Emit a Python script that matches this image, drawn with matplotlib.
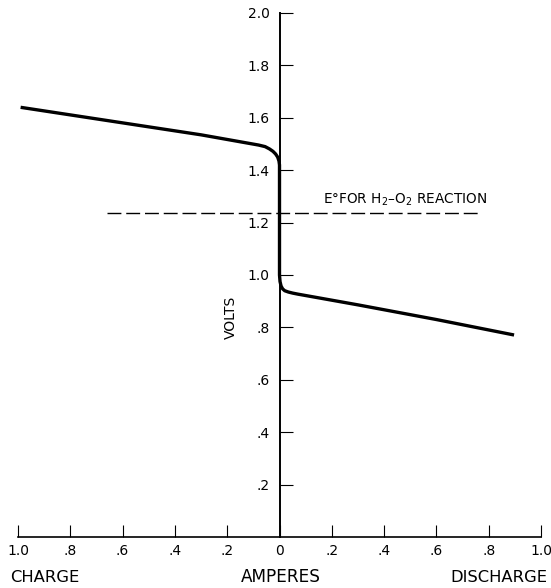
import matplotlib
matplotlib.use("Agg")
import matplotlib.pyplot as plt
import numpy as np

# Data (amperes; negative = charge side, volts)
curve_x = [-0.99, -0.30, -0.08, -0.055, -0.038, -0.025, -0.015, -0.007, -0.002, 0.0, 0.0,
           0.0, 0.002, 0.006, 0.012, 0.02, 0.034, 0.05, 0.07, 0.30, 0.60, 0.897]
curve_y = [1.64, 1.535, 1.496, 1.490, 1.481, 1.472, 1.462, 1.450, 1.435, 1.42, 1.05,
           1.00, 0.975, 0.958, 0.947, 0.940, 0.935, 0.931, 0.927, 0.886, 0.830, 0.771]
ref_x = [-0.66, 0.77]
ref_y = 1.235
x_ticks = [-1.0, -0.8, -0.6, -0.4, -0.2, 0.0, 0.2, 0.4, 0.6, 0.8, 1.0]
x_ticklabels = ["1.0", ".8", ".6", ".4", ".2", "0", ".2", ".4", ".6", ".8", "1.0"]
y_ticks = [0.2, 0.4, 0.6, 0.8, 1.0, 1.2, 1.4, 1.6, 1.8, 2.0]
y_ticklabels = [".2", ".4", ".6", ".8", "1.0", "1.2", "1.4", "1.6", "1.8", "2.0"]

plt.rcParams['font.family'] = ['DejaVu Sans']
fig = plt.figure(figsize=(5.51, 5.88), dpi=100)
ax = fig.add_axes([18/551, 1-537/588, 523/551, 524/588])
ax.set_xlim(-1, 1)
ax.set_ylim(0, 2)

ax.plot(curve_x, curve_y, color='black', lw=2.4, solid_joinstyle='round', solid_capstyle='butt')
ax.plot(ref_x, [ref_y, ref_y], color='black', lw=1.0, dashes=(10, 3.5))
ax.text(0.165, 1.257, "E°FOR H$_2$–O$_2$ REACTION", fontsize=9.8, ha='left', va='bottom')

for s in ['top', 'right']:
    ax.spines[s].set_visible(False)
ax.spines['left'].set_position(('data', 0))
ax.spines['bottom'].set_position(('data', 0))
ax.spines['left'].set_linewidth(1.4)
ax.spines['bottom'].set_linewidth(1.2)

ax.set_xticks(x_ticks)
ax.set_xticklabels(x_ticklabels, fontsize=10)
ax.set_yticks(y_ticks)
ax.set_yticklabels(y_ticklabels, fontsize=10)
ax.tick_params(axis='x', direction='in', length=9, width=0.8, pad=5)
ax.tick_params(axis='y', direction='in', length=9, width=0.8, pad=7)

ax.text(-0.185, 0.84, "VOLTS", rotation=90, ha='center', va='center', fontsize=10)
fig.text(10/551, 1-577/588, "CHARGE", ha='left', va='center', fontsize=11.8)
fig.text(281/551, 1-577/588, "AMPERES", ha='center', va='center', fontsize=12.2)
fig.text(547/551, 1-577/588, "DISCHARGE", ha='right', va='center', fontsize=11.8)

fig.savefig("out.png", dpi=100)
